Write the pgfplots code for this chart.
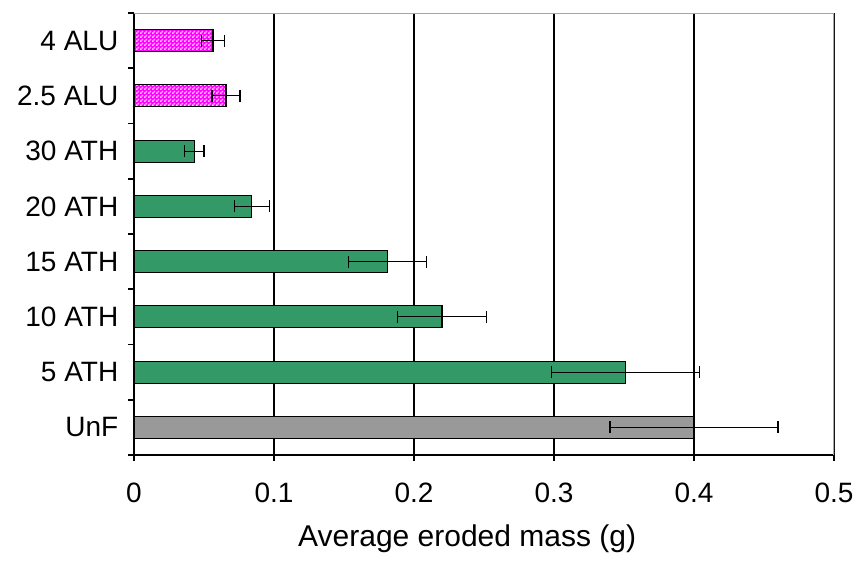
\documentclass[border=0pt]{standalone}
\usepackage{fontspec}
\setmainfont{Liberation Sans}
\usepackage{pgfplots}
\pgfplotsset{compat=1.18}
\usetikzlibrary{patterns}
\definecolor{seagr}{HTML}{339966}
\definecolor{grayfill}{HTML}{999999}
\definecolor{magfill}{HTML}{FF00FF}
\definecolor{lightmag}{HTML}{FFD0FF}
\pgfdeclarepatternformonly{finecheck}{\pgfpointorigin}{\pgfqpoint{2bp}{2bp}}{\pgfqpoint{2bp}{2bp}}{%
  \pgfpathrectangle{\pgfpointorigin}{\pgfqpoint{1bp}{1bp}}%
  \pgfpathrectangle{\pgfqpoint{1bp}{1bp}}{\pgfqpoint{1bp}{1bp}}%
  \pgfusepath{fill}}
\begin{document}
\fontsize{14bp}{16bp}\selectfont
\begin{tikzpicture}
\path[use as bounding box] (-67bp,-53.5bp) rectangle (361.5bp,227.5bp);
\begin{axis}[
  at={(0,0)}, anchor=south west,
  scale only axis,
  width=350bp, height=221bp,
  xmin=0, xmax=0.5,
  ymin=-0.5, ymax=7.5,
  axis lines*=left,
  axis line style={black, line width=0.8pt},
  xtick={0,0.1,0.2,0.3,0.4,0.5},
  xticklabels={0,0.1,0.2,0.3,0.4,0.5},
  ytick={0,1,2,3,4,5,6,7},
  yticklabels={UnF,5 ATH,10 ATH,15 ATH,20 ATH,30 ATH,2.5 ALU,4 ALU},
  minor ytick={-0.5,0.5,1.5,2.5,3.5,4.5,5.5,6.5,7.5},
  tick align=outside,
  major tick length=3bp,
  minor tick length=3bp,
  y tick style={draw=none},
  minor y tick style={draw=black, line width=0.8pt},
  x tick style={black, line width=0.8pt},
  xmajorgrids,
  major grid style={black, line width=0.7pt},
  ticklabel style={font=\fontsize{14bp}{16bp}\selectfont},
  xticklabel style={yshift=-6bp},
  yticklabel style={xshift=0bp},
  xlabel={Average eroded mass (g)},
  xlabel style={font=\fontsize{15bp}{18bp}\selectfont, at={(axis description cs:0.476,0)}, anchor=north, yshift=-30bp},
  xbar, bar width=11bp, bar shift=0pt,
  error bars/x dir=both, error bars/x explicit,
  error bars/error bar style={black, line width=0.6pt},
  error bars/error mark options={rotate=90, mark size=3bp, black, line width=0.6pt},
]
\addplot[fill=grayfill, draw=black, line width=0.6pt] coordinates {
  (0.400,0) +- (0.060,0)
};
\addplot[fill=seagr, draw=black, line width=0.6pt] coordinates {
  (0.351,1) +- (0.053,0)
  (0.220,2) +- (0.032,0)
  (0.181,3) +- (0.028,0)
  (0.084,4) +- (0.0125,0)
  (0.043,5) +- (0.007,0)
};
\addplot[fill=magfill, draw=black, line width=0.6pt, postaction={pattern=finecheck, pattern color=lightmag}] coordinates {
  (0.0657,6) +- (0.010,0)
  (0.0564,7) +- (0.0083,0)
};
\draw[gray!70, line width=1.2pt] (rel axis cs:0,1) -- (rel axis cs:1,1) -- (rel axis cs:1,0);
\end{axis}
\end{tikzpicture}
\end{document}
